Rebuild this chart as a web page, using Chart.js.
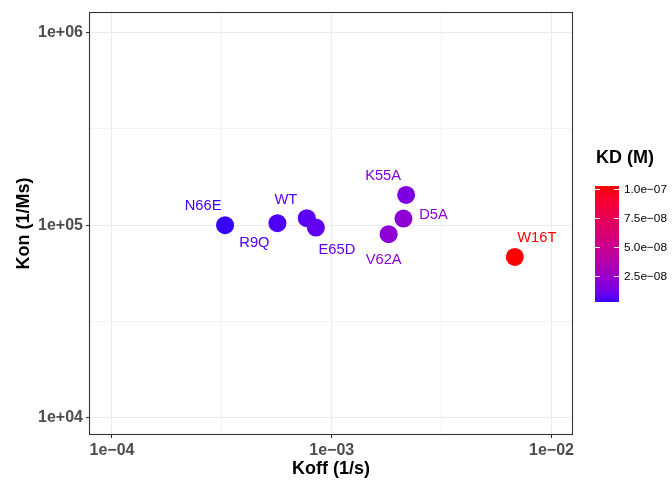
<!DOCTYPE html>
<html>
<head>
<meta charset="utf-8">
<script src="https://cdn.jsdelivr.net/npm/chart.js@4/dist/chart.umd.min.js"></script>
<style>
  html, body { margin: 0; padding: 0; background: #fff; }
</style>
</head>
<body>
<canvas id="kinetics" width="672" height="482"></canvas>
<script>
// values
const mutants = ['N66E', 'R9Q', 'WT', 'E65D', 'K55A', 'D5A', 'V62A', 'W16T'];
const koff = [3.27e-4, 5.66e-4, 7.70e-4, 8.47e-4, 2.18e-3, 2.12e-3, 1.815e-3, 6.81e-3];
const kon = [1.0e5, 1.024e5, 1.087e5, 9.72e4, 1.436e5, 1.082e5, 8.98e4, 6.84e4];
const kd = [2.6e-9, 5.5e-9, 7.1e-9, 8.7e-9, 1.52e-8, 1.96e-8, 2.02e-8, 1.03e-7];

const xTicks = [1e-4, 1e-3, 1e-2];
const xTickLabels = ['1e\u221204', '1e\u221203', '1e\u221202'];
const yTicks = [1e4, 1e5, 1e6];
const yTickLabels = ['1e+04', '1e+05', '1e+06'];
const kdTicks = [2.5e-8, 5.0e-8, 7.5e-8, 1.0e-7];
const kdTickLabels = ['2.5e\u221208', '5.0e\u221208', '7.5e\u221208', '1.0e\u221207'];

// label nudges (px) like ggrepel put them
const labelNudge = [[-22, -19], [-23, 20], [-21, -18], [21, 22], [-23, -19], [30, -4], [-5, 26], [22, -19]];

const FONT = "'Liberation Sans', Arial, Helvetica, sans-serif";
const LOW = '#3700ff', HIGH = '#ff0000';

// colour ramp in CIELAB, the way ggplot does it
function hexToRgb(h) {
    return [1, 3, 5].map(i => parseInt(h.substr(i, 2), 16) / 255);
}
function toLin(c) { return c <= 0.04045 ? c / 12.92 : Math.pow((c + 0.055) / 1.055, 2.4); }
function fromLin(c) { return c <= 0.0031308 ? 12.92 * c : 1.055 * Math.pow(c, 1 / 2.4) - 0.055; }
function rgbToLab(rgb) {
    const [r, g, b] = rgb.map(toLin);
    let x = (0.4124 * r + 0.3576 * g + 0.1805 * b) / 0.95047;
    let y = (0.2126 * r + 0.7152 * g + 0.0722 * b);
    let z = (0.0193 * r + 0.1192 * g + 0.9505 * b) / 1.08883;
    const f = t => t > 0.008856 ? Math.cbrt(t) : 7.787 * t + 16 / 116;
    x = f(x); y = f(y); z = f(z);
    return [116 * y - 16, 500 * (x - y), 200 * (y - z)];
}
function labToHex(lab) {
    const fy = (lab[0] + 16) / 116, fx = fy + lab[1] / 500, fz = fy - lab[2] / 200;
    const inv = t => t * t * t > 0.008856 ? t * t * t : (t - 16 / 116) / 7.787;
    const x = inv(fx) * 0.95047, y = inv(fy), z = inv(fz) * 1.08883;
    const r = 3.2406 * x - 1.5372 * y - 0.4986 * z;
    const g = -0.9689 * x + 1.8758 * y + 0.0415 * z;
    const b = 0.0557 * x - 0.2040 * y + 1.0570 * z;
    return '#' + [r, g, b].map(c => {
        const v = Math.round(Math.min(1, Math.max(0, fromLin(c))) * 255);
        return v.toString(16).padStart(2, '0');
    }).join('');
}
const labLow = rgbToLab(hexToRgb(LOW));
const labHigh = rgbToLab(hexToRgb(HIGH));
const kdMin = Math.min(...kd), kdMax = Math.max(...kd);
function kdColor(v) {
    const t = (v - kdMin) / (kdMax - kdMin);
    return labToHex(labLow.map((c, i) => c + t * (labHigh[i] - c)));
}
const colors = kd.map(kdColor);

function isMajor(v, majors) {
    return majors.some(m => Math.abs(Math.log10(v) - Math.log10(m)) < 1e-6);
}
function withMinors(majors) {
    const out = [];
    majors.forEach((m, i) => {
        out.push(m);
        if (i < majors.length - 1) out.push(m * Math.sqrt(10));
    });
    return out;
}

const pointLabels = {
    id: 'pointLabels',
    afterDatasetsDraw(chart) {
        const ctx = chart.ctx;
        const meta = chart.getDatasetMeta(0);
        ctx.save();
        ctx.font = '14.7px ' + FONT;
        ctx.textAlign = 'center';
        ctx.textBaseline = 'middle';
        meta.data.forEach((pt, i) => {
            ctx.fillStyle = colors[i];
            ctx.fillText(mutants[i], pt.x + labelNudge[i][0], pt.y + labelNudge[i][1]);
        });
        ctx.restore();
    }
};

const panelAndLegend = {
    id: 'panelAndLegend',
    afterDraw(chart) {
        const ctx = chart.ctx;
        const a = chart.chartArea;
        ctx.save();
        // panel border
        ctx.strokeStyle = '#333333';
        ctx.lineWidth = 1.1;
        ctx.strokeRect(a.left - 0.5, a.top - 0.5, a.right - a.left + 1, a.bottom - a.top + 1);

        // colour bar
        const bx = 595, bw = 24, top = 186, bottom = 302;
        const ky = v => bottom - (v - kdMin) / (kdMax - kdMin) * (bottom - top);
        for (let y = top; y < bottom; y++) {
            const v = kdMin + (bottom - y - 0.5) / (bottom - top) * (kdMax - kdMin);
            ctx.fillStyle = kdColor(v);
            ctx.fillRect(bx, y, bw, 1);
        }
        ctx.strokeStyle = '#ffffff';
        ctx.lineWidth = 1;
        ctx.font = '11.8px ' + FONT;
        ctx.textAlign = 'left';
        ctx.textBaseline = 'middle';
        ctx.fillStyle = '#000000';
        kdTicks.forEach((v, i) => {
            const y = Math.round(ky(v)) + 0.5;
            ctx.beginPath();
            ctx.moveTo(bx, y); ctx.lineTo(bx + 5, y);
            ctx.moveTo(bx + bw - 5, y); ctx.lineTo(bx + bw, y);
            ctx.stroke();
            ctx.fillText(kdTickLabels[i], bx + bw + 5, y);
        });
        ctx.font = 'bold 18px ' + FONT;
        ctx.textBaseline = 'alphabetic';
        ctx.fillText('KD (M)', bx + 1, 163);
        ctx.restore();
    }
};

const tickFont = { family: FONT, size: 16, weight: 'bold' };
const titleFont = { family: FONT, size: 18, weight: 'bold' };

function gridFor(majors) {
    return {
        color: '#EBEBEB',
        lineWidth: c => (c.tick && isMajor(c.tick.value, majors)) ? 1 : 0.6,
        tickColor: c => (c.tick && isMajor(c.tick.value, majors)) ? '#333333' : 'rgba(0,0,0,0)',
        tickLength: 4,
        tickWidth: 1.1
    };
}

new Chart(document.getElementById('kinetics').getContext('2d'), {
    type: 'scatter',
    data: {
        datasets: [{
            data: koff.map((x, i) => ({ x: x, y: kon[i] })),
            backgroundColor: colors,
            pointBackgroundColor: colors,
            pointBorderWidth: 0,
            pointRadius: 9,
            pointHoverRadius: 9
        }]
    },
    options: {
        responsive: false,
        animation: false,
        devicePixelRatio: 1,
        layout: { padding: { left: 0, right: 100, top: 13, bottom: 0 } },
        plugins: { legend: { display: false }, tooltip: { enabled: false } },
        scales: {
            x: {
                type: 'logarithmic',
                min: Math.pow(10, -4.1001),
                max: Math.pow(10, -1.9067),
                afterBuildTicks: s => { s.ticks = withMinors(xTicks).map(v => ({ value: v })); },
                afterFit: s => { s.height = 48; },
                ticks: {
                    autoSkip: false, maxRotation: 0, padding: 3,
                    color: '#4D4D4D', font: tickFont,
                    callback: v => {
                        const i = xTicks.findIndex(m => Math.abs(Math.log10(v) - Math.log10(m)) < 1e-6);
                        return i >= 0 ? xTickLabels[i] : '';
                    }
                },
                grid: gridFor(xTicks),
                border: { display: false },
                title: { display: true, text: 'Koff (1/s)', color: '#000000', font: titleFont, padding: { top: 0, bottom: 2 } }
            },
            y: {
                type: 'logarithmic',
                min: Math.pow(10, 3.9153),
                max: Math.pow(10, 6.1023),
                afterBuildTicks: s => { s.ticks = withMinors(yTicks).map(v => ({ value: v })); },
                afterFit: s => { s.width = 90; },
                ticks: {
                    autoSkip: false, padding: 3,
                    color: '#4D4D4D', font: tickFont,
                    callback: v => {
                        const i = yTicks.findIndex(m => Math.abs(Math.log10(v) - Math.log10(m)) < 1e-6);
                        return i >= 0 ? yTickLabels[i] : '';
                    }
                },
                grid: gridFor(yTicks),
                border: { display: false },
                title: { display: true, text: 'Kon (1/Ms)', color: '#000000', font: titleFont, padding: { top: 13, bottom: 0 } }
            }
        }
    },
    plugins: [pointLabels, panelAndLegend]
});
</script>
</body>
</html>
